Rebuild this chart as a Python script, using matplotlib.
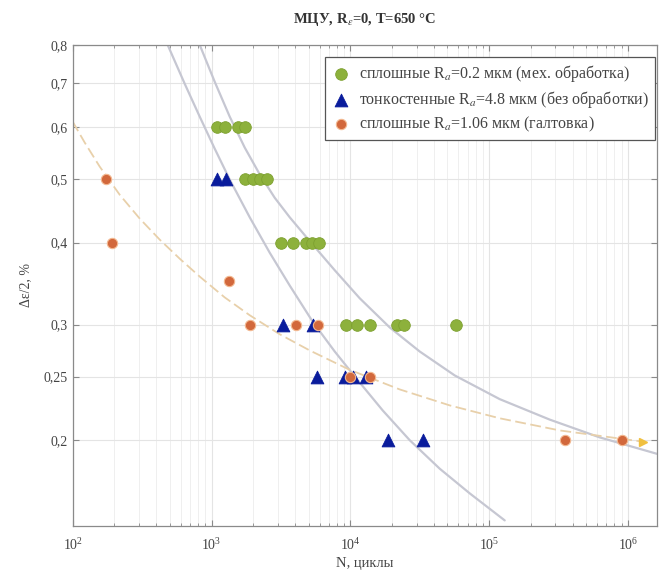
import matplotlib
matplotlib.use("Agg")
import matplotlib.pyplot as plt
from matplotlib.ticker import FixedLocator, FixedFormatter, LogLocator, NullLocator, LogFormatterSciNotation

plt.rcParams['font.family'] = ['Liberation Serif', 'DejaVu Serif']
plt.rcParams['mathtext.fontset'] = 'stix'

# ---- data: сплошные Ra=0.2 (мех. обработка)
green_N = [1100, 1250, 1550, 1730,
           1730, 1980, 2230, 2500,
           3150, 3850, 4770, 5270, 5920,
           9270, 11100, 13800, 21600, 24300, 57400]
green_e = [0.6, 0.6, 0.6, 0.6,
           0.5, 0.5, 0.5, 0.5,
           0.4, 0.4, 0.4, 0.4, 0.4,
           0.3, 0.3, 0.3, 0.3, 0.3, 0.3]

# тонкостенные Ra=4.8 (без обработки)
blue_N = [1100, 1270, 3260, 5360, 5730, 9110, 10400, 12900, 18600, 33200]
blue_e = [0.5, 0.5, 0.3, 0.3, 0.25, 0.25, 0.25, 0.25, 0.2, 0.2]

# сплошные Ra=1.06 (галтовка)
orange_N = [173, 191, 1330, 1885, 4040, 5820, 9900, 13800, 350000, 902000]
orange_e = [0.5, 0.4, 0.35, 0.3, 0.3, 0.3, 0.25, 0.25, 0.2, 0.2]

# fitted curves, points
fit_blue_N = [483, 641, 822, 1054, 1352, 1885, 2626, 3660, 5360, 7720, 11120,
              17120, 26800, 44070, 72500, 129500]
fit_blue_e = [0.8, 0.698, 0.622, 0.556, 0.499, 0.437, 0.386, 0.344, 0.303, 0.273, 0.248,
              0.222, 0.200, 0.181, 0.166, 0.151]
fit_green_N = [822, 1054, 1352, 1735, 2225, 2853, 3660, 5100, 7720, 11690, 19230,
               31620, 56530, 119200, 273300, 626400, 1720000]
fit_green_e = [0.8, 0.703, 0.622, 0.558, 0.508, 0.468, 0.437, 0.402, 0.363, 0.329, 0.297,
               0.273, 0.251, 0.231, 0.215, 0.202, 0.190]
fit_orange_N = [100, 122, 156.5, 218, 304, 424, 590, 822, 1245, 1885, 3100, 5100,
                9900, 22700, 52000, 119200, 322600, 1280000]
fit_orange_e = [0.611, 0.568, 0.522, 0.473, 0.435, 0.404, 0.378, 0.355, 0.330, 0.310, 0.290, 0.274,
                0.256, 0.239, 0.226, 0.216, 0.207, 0.199]

yticks = [0.2, 0.25, 0.3, 0.4, 0.5, 0.6, 0.7, 0.8]
yticklabels = ['0,2', '0,25', '0,3', '0,4', '0,5', '0,6', '0,7', '0,8']

title = 'МЦУ, R$_\\varepsilon$=0, T=650 °C'
labels = ['сплошные R$_a$=0.2 мкм (мех. обработка)',
          'тонкостенные R$_a$=4.8 мкм (без обработки)',
          'сплошные R$_a$=1.06 мкм (галтовка)']

fig = plt.figure(figsize=(6.61, 5.75), dpi=100)
ax = fig.add_axes([0.110, 0.085, 0.884, 0.837])
ax.set_xscale('log')
ax.set_yscale('log')
ax.set_xlim(100, 1.62e6)
ax.set_ylim(0.148, 0.8)

ax.xaxis.set_major_locator(LogLocator(base=10, numticks=10))
ax.xaxis.set_minor_locator(LogLocator(base=10, subs=range(2, 10), numticks=100))
ax.xaxis.set_major_formatter(LogFormatterSciNotation())
ax.yaxis.set_major_locator(FixedLocator(yticks))
ax.yaxis.set_major_formatter(FixedFormatter(yticklabels))
ax.yaxis.set_minor_locator(NullLocator())

ax.grid(True, which='major', color='#e4e4e4', lw=0.8)
ax.grid(True, which='minor', axis='x', color='#efefef', lw=0.7)
ax.set_axisbelow(True)

ax.plot(fit_blue_N, fit_blue_e, color='#c6c7d2', lw=1.6, zorder=2, solid_capstyle='round')
ax.plot(fit_green_N, fit_green_e, color='#c6c7d2', lw=1.6, zorder=2, solid_capstyle='round')
ax.plot(fit_orange_N, fit_orange_e, color='#e8d0aa', lw=1.3, ls=(0, (6, 2.5)), zorder=2)
ax.plot(fit_orange_N[-1:], fit_orange_e[-1:], marker='>', color='#f0c040', ms=6, ls='none', zorder=2)

ax.scatter(green_N, green_e, s=70, marker='o', color='#8db13c', edgecolors='#7da030', lw=0.6,
           label=labels[0], zorder=3)
ax.scatter(blue_N, blue_e, s=85, marker='^', color='#0a1c9c', edgecolors='#0a1c9c', lw=0.6,
           label=labels[1], zorder=4)
ax.scatter(orange_N, orange_e, s=55, marker='o', color='#d2683c', edgecolors='#f3b890', lw=0.8,
           label=labels[2], zorder=5)

for sp in ax.spines.values():
    sp.set_color('#8a8a8a')
    sp.set_linewidth(0.9)
ax.tick_params(which='both', direction='in', top=True, right=True, colors='#8a8a8a',
               labelcolor='#444444', labelsize=10)
ax.tick_params(which='major', length=4)
ax.tick_params(which='minor', length=2)
ax.tick_params(axis='x', which='major', pad=8)

ax.set_title(title, fontsize=10.5, fontweight='bold', color='#333333', pad=16)
ax.set_xlabel('N, циклы', fontsize=10.5, color='#444444', labelpad=3)
ax.set_ylabel('Δε/2, %', fontsize=10, color='#444444', labelpad=8)

leg = ax.legend(loc='upper right', bbox_to_anchor=(0.997, 0.975), borderaxespad=0,
                fontsize=11.5, frameon=True, fancybox=False, edgecolor='#555555', framealpha=1,
                handletextpad=0.5, borderpad=0.4, labelspacing=0.3, scatterpoints=1,
                handlelength=1.2)
leg.get_frame().set_linewidth(0.9)
for t in leg.get_texts():
    t.set_color('#444444')

fig.savefig('out.png', dpi=100)
